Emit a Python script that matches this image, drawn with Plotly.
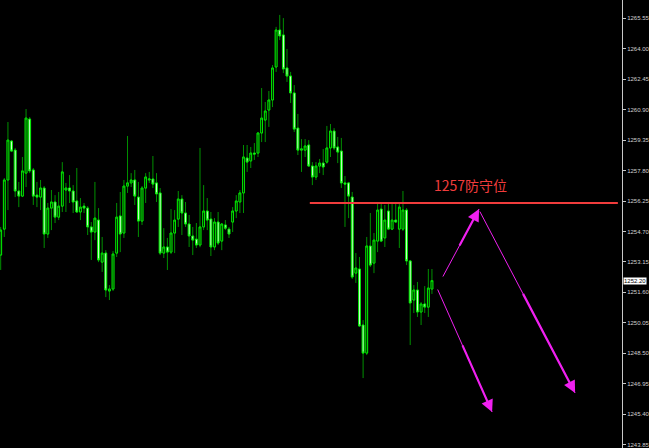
import plotly.graph_objects as go

# ---- data ----
opens = [1253.50, 1254.82, 1257.32, 1259.30, 1258.84, 1256.76, 1256.50, 1257.67, 1260.42, 1257.83,
         1256.55, 1256.45, 1256.91, 1254.57, 1255.89, 1256.20, 1255.43, 1255.99, 1256.81, 1256.91,
         1256.76, 1256.25, 1255.69, 1255.99, 1255.89, 1254.93, 1254.67, 1255.28, 1253.14, 1253.60,
         1251.67, 1251.77, 1253.60, 1255.49, 1254.62, 1257.01, 1257.17, 1257.32, 1256.45, 1255.23,
         1256.91, 1257.32, 1257.37, 1257.17, 1256.66, 1253.60, 1253.91, 1253.65, 1254.62, 1255.33,
         1256.35, 1255.64, 1255.08, 1254.47, 1254.31, 1254.01, 1254.93, 1255.74, 1255.33, 1253.91,
         1255.18, 1254.21, 1255.03, 1254.82, 1255.18, 1255.74, 1256.20, 1256.66, 1258.44, 1258.29,
         1258.69, 1258.69, 1259.71, 1260.37, 1260.88, 1261.39, 1263.07, 1264.95, 1264.70, 1263.02,
         1262.61, 1261.75, 1259.96, 1258.84, 1258.84, 1259.10, 1258.03, 1257.47, 1258.03, 1258.18,
         1258.23, 1258.95, 1259.81, 1259.00, 1258.79, 1257.17, 1257.17, 1256.45, 1252.58, 1252.79,
         1249.94, 1248.51, 1253.96, 1253.09, 1254.21, 1255.84, 1254.37, 1255.74, 1254.82, 1255.28,
         1254.82, 1254.82, 1255.79, 1253.20, 1251.21, 1251.72, 1250.60, 1251.01, 1250.85, 1251.77]
highs = [1254.93, 1257.42, 1260.27, 1259.35, 1258.95, 1257.22, 1258.49, 1260.93, 1260.52, 1257.93,
         1257.22, 1257.32, 1257.01, 1256.15, 1256.81, 1256.55, 1256.71, 1258.23, 1257.17, 1257.57,
         1257.06, 1257.93, 1256.40, 1256.15, 1255.99, 1255.18, 1257.22, 1255.89, 1254.42, 1253.75,
         1251.97, 1253.70, 1256.15, 1256.71, 1257.32, 1259.56, 1257.67, 1257.83, 1257.22, 1257.01,
         1257.67, 1257.73, 1258.54, 1257.67, 1256.91, 1254.87, 1254.37, 1255.84, 1255.79, 1256.76,
         1256.55, 1256.20, 1255.54, 1254.93, 1255.13, 1258.95, 1257.06, 1256.40, 1255.69, 1255.38,
         1255.69, 1255.13, 1255.28, 1254.93, 1255.94, 1256.55, 1256.81, 1259.10, 1259.10, 1259.00,
         1259.20, 1259.76, 1262.00, 1261.29, 1261.85, 1263.17, 1265.11, 1265.72, 1265.56, 1263.99,
         1262.82, 1262.15, 1260.68, 1259.40, 1259.40, 1259.35, 1258.23, 1258.23, 1258.39, 1258.90,
         1260.07, 1260.17, 1259.96, 1259.51, 1259.46, 1257.52, 1257.22, 1256.71, 1253.60, 1253.40,
         1250.19, 1254.42, 1255.64, 1254.62, 1256.20, 1256.15, 1256.05, 1256.15, 1256.15, 1256.15,
         1256.15, 1256.76, 1255.89, 1253.25, 1251.97, 1252.13, 1251.11, 1251.92, 1252.79, 1252.79]
lows = [1252.74, 1254.42, 1255.79, 1258.74, 1256.45, 1255.94, 1256.45, 1256.96, 1257.67, 1256.05,
        1255.94, 1255.79, 1253.86, 1254.37, 1254.77, 1255.13, 1255.28, 1255.69, 1255.69, 1256.15,
        1255.64, 1255.64, 1255.28, 1255.64, 1254.52, 1253.25, 1254.26, 1253.14, 1252.64, 1251.36,
        1251.21, 1251.67, 1253.40, 1253.65, 1254.37, 1256.66, 1256.96, 1256.05, 1254.42, 1255.03,
        1256.15, 1257.17, 1256.91, 1256.20, 1253.50, 1253.35, 1252.74, 1253.55, 1253.60, 1254.93,
        1254.52, 1254.93, 1253.91, 1253.50, 1253.86, 1253.90, 1254.77, 1254.77, 1253.45, 1253.75,
        1254.01, 1253.75, 1254.77, 1254.37, 1254.67, 1255.38, 1255.64, 1255.64, 1257.73, 1257.93,
        1258.34, 1258.49, 1259.25, 1259.25, 1260.02, 1261.03, 1262.82, 1264.44, 1262.76, 1262.31,
        1261.24, 1259.76, 1258.59, 1257.73, 1258.49, 1257.98, 1257.06, 1257.32, 1257.67, 1257.57,
        1258.15, 1258.49, 1258.84, 1258.18, 1256.91, 1254.93, 1255.38, 1252.28, 1252.08, 1249.84,
        1247.24, 1248.41, 1252.89, 1252.58, 1253.65, 1254.16, 1253.91, 1254.77, 1254.77, 1255.13,
        1253.86, 1254.72, 1252.99, 1248.92, 1250.55, 1250.35, 1249.94, 1250.55, 1250.35, 1251.52]
closes = [1254.77, 1257.32, 1259.35, 1258.79, 1256.76, 1256.50, 1257.78, 1260.47, 1257.78, 1256.50,
          1256.45, 1256.91, 1254.57, 1255.89, 1256.20, 1255.43, 1255.99, 1257.73, 1256.91, 1256.76,
          1256.20, 1255.69, 1255.94, 1255.89, 1254.93, 1254.67, 1255.38, 1253.25, 1253.60, 1251.72,
          1251.77, 1253.55, 1255.43, 1254.57, 1257.01, 1257.17, 1257.32, 1256.50, 1255.23, 1256.91,
          1257.47, 1257.37, 1257.11, 1256.61, 1253.60, 1253.91, 1253.65, 1254.62, 1255.28, 1256.35,
          1255.64, 1255.08, 1254.47, 1254.26, 1254.01, 1254.93, 1255.74, 1255.28, 1253.91, 1255.18,
          1254.11, 1255.08, 1254.87, 1254.57, 1255.74, 1256.25, 1256.66, 1258.49, 1258.23, 1258.69,
          1258.64, 1259.71, 1260.47, 1260.83, 1261.39, 1263.02, 1264.95, 1264.65, 1262.97, 1262.61,
          1261.75, 1259.91, 1258.84, 1258.90, 1259.05, 1258.03, 1257.47, 1258.03, 1258.18, 1257.98,
          1258.95, 1259.81, 1258.95, 1258.74, 1257.17, 1257.11, 1256.50, 1252.38, 1252.84, 1249.89,
          1248.51, 1253.96, 1252.99, 1254.26, 1255.79, 1254.21, 1255.28, 1254.82, 1255.28, 1255.18,
          1255.94, 1255.79, 1253.20, 1251.06, 1251.72, 1250.60, 1251.01, 1250.85, 1251.82, 1252.20]
bars = list(range(len(closes)))

tick_values = [1243.85, 1245.40, 1246.95, 1248.50, 1250.05, 1251.60, 1253.15, 1254.70,
               1256.25, 1257.80, 1259.35, 1260.90, 1262.45, 1264.00, 1265.55]
tick_labels = ["%.2f" % v for v in tick_values]
current_price = 1252.20

level_price = 1256.15
level_label = "1257防守位"
level_start_bar, level_end_bar = 85.3, 170.3
label_bar, label_price = 129.5, 1257.06

# arrows: (tail_bar, tail_price, head_bar, head_price)
arrows = [
    (121.8, 1252.33, 132.0, 1255.84),
    (132.0, 1255.79, 158.5, 1246.48),
    (120.4, 1251.82, 135.6, 1245.51),
]

# ---- figure ----
body_hi = [max(o, c) for o, c in zip(opens, closes)]
body_lo = [min(o, c) for o, c in zip(opens, closes)]

fig = go.Figure()
# wicks
fig.add_trace(go.Candlestick(
    x=bars, open=opens, high=highs, low=lows, close=closes,
    increasing=dict(line=dict(color="#009000", width=1), fillcolor="#009000"),
    decreasing=dict(line=dict(color="#009000", width=1), fillcolor="#009000"),
    showlegend=False, hoverinfo="skip"))
# bodies
fig.add_trace(go.Candlestick(
    x=bars, open=opens, high=body_hi, low=body_lo, close=closes,
    increasing=dict(line=dict(color="#00e800", width=1), fillcolor="#000000"),
    decreasing=dict(line=dict(color="#00e800", width=1), fillcolor="#ffffff"),
    showlegend=False, hoverinfo="skip"))

fig.add_shape(type="line", xref="x", yref="y",
              x0=level_start_bar, x1=level_end_bar, y0=level_price, y1=level_price,
              line=dict(color="#f03c3c", width=2))
fig.add_annotation(x=label_bar, y=label_price, xref="x", yref="y", text=level_label,
                   showarrow=False, font=dict(family="Noto Sans CJK SC", size=14, color="#f03c3c"))

for tb, tp, hb, hp in arrows:
    # thin full-length shaft
    fig.add_annotation(x=hb, y=hp, ax=tb, ay=tp, xref="x", yref="y", axref="x", ayref="y",
                       text="", showarrow=True, arrowhead=0, arrowwidth=1,
                       arrowcolor="#f020f0", standoff=0, startstandoff=0)
    # thicker final part with head
    mb, mp = tb + (hb - tb) * 0.45, tp + (hp - tp) * 0.45
    fig.add_annotation(x=hb, y=hp, ax=mb, ay=mp, xref="x", yref="y", axref="x", ayref="y",
                       text="", showarrow=True, arrowhead=2, arrowsize=1.1, arrowwidth=2.2,
                       arrowcolor="#f020f0", standoff=0, startstandoff=0)

fig.add_annotation(x=1, xref="paper", y=current_price, yref="y", text="%.2f" % current_price,
                   xanchor="left", yanchor="middle", showarrow=False, xshift=1,
                   bgcolor="#ffffff", borderpad=0,
                   font=dict(family="Liberation Sans", size=6, color="#000000"))

fig.update_layout(
    width=649, height=448,
    margin=dict(l=0, r=27, t=0, b=0, autoexpand=False),
    paper_bgcolor="#000000", plot_bgcolor="#000000",
    xaxis=dict(range=[-0.19, 171.44], visible=False, rangeslider=dict(visible=False),
               showgrid=False, zeroline=False),
    yaxis=dict(range=[1243.68, 1266.48], side="right", showgrid=False, zeroline=False,
               tickmode="array", tickvals=tick_values, ticktext=tick_labels,
               ticks="outside", ticklen=3, tickcolor="#c8c8c8",
               showline=True, linecolor="#c8c8c8", linewidth=1, automargin=False,
               tickfont=dict(family="Liberation Sans", size=6, color="#d0d0d0")),
    boxgap=0.3,
    showlegend=False,
)

fig.write_html("out.html", config={"displayModeBar": False},
               post_script="document.body.style.margin='0';document.body.style.background='#000';")
